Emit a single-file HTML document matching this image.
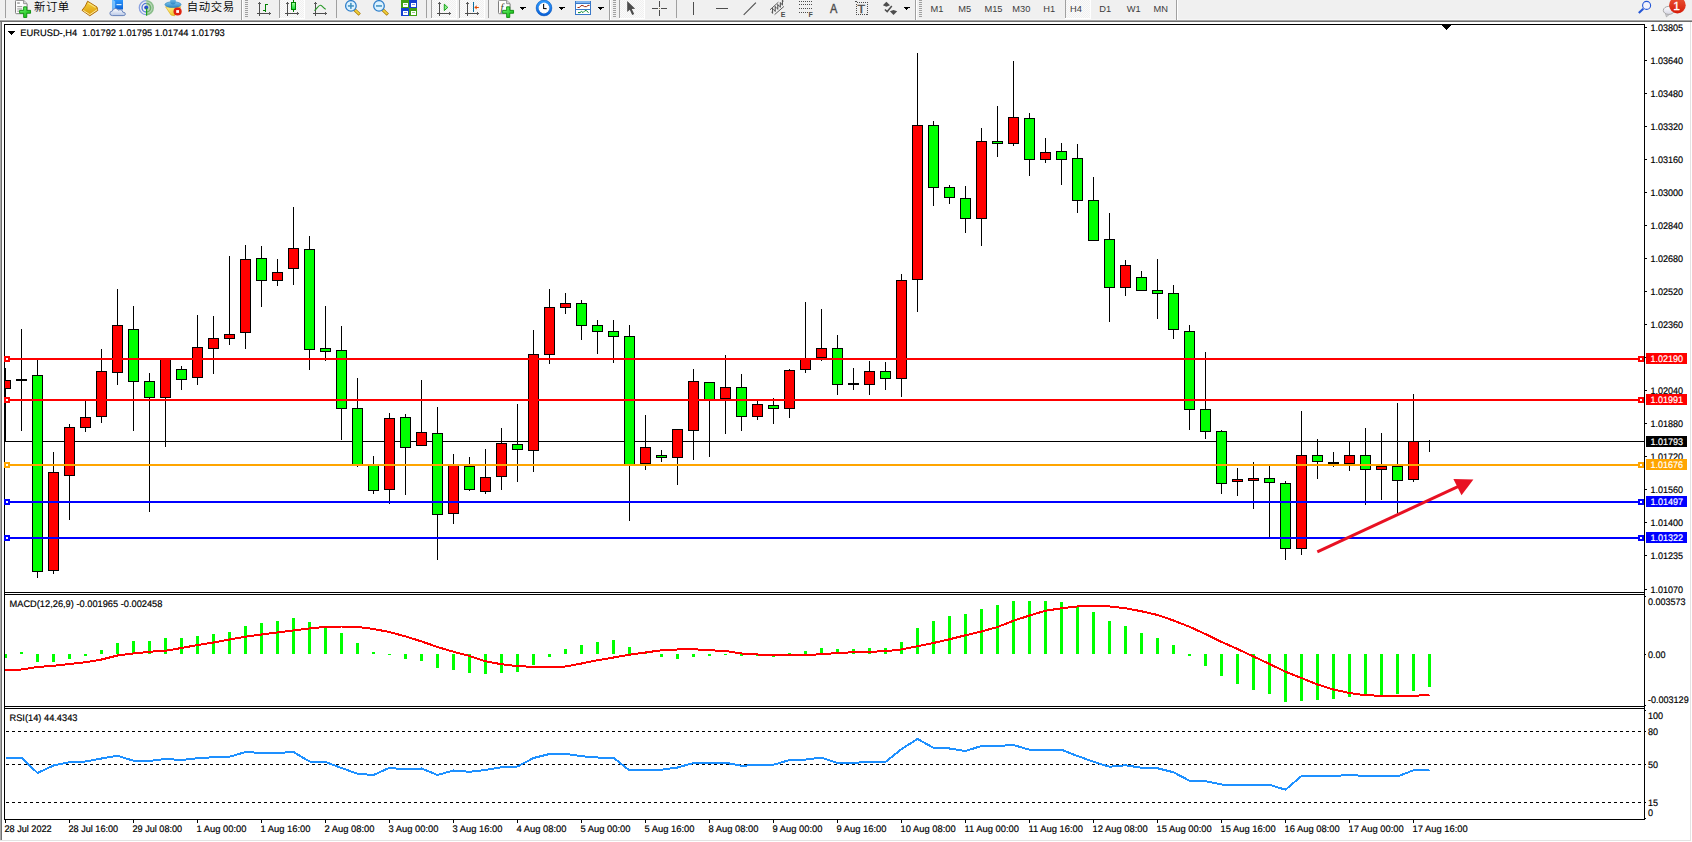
<!DOCTYPE html>
<html lang="zh"><head><meta charset="utf-8"><title>EURUSD-,H4</title>
<style>html,body{margin:0;padding:0;background:#fff}body{width:1692px;height:842px;overflow:hidden;position:relative}</style></head>
<body>
<svg width="1692" height="842" viewBox="0 0 1692 842" shape-rendering="crispEdges" style="position:absolute;left:0;top:0;font-family:'Liberation Sans','Noto Sans CJK SC',sans-serif">
<rect x="0" y="0" width="1692" height="842" fill="#ffffff"/>
<rect x="0" y="0" width="1692" height="19" fill="#f0f0f0"/>
<rect x="0" y="19" width="1692" height="1" fill="#f6f6f6"/>
<rect x="0" y="20" width="1692" height="1" fill="#a5a5a5"/>
<rect x="0" y="21" width="1692" height="1" fill="#6d6d6d"/>
<rect x="0" y="22" width="1" height="819" fill="#a9a9a9"/>
<rect x="1" y="22" width="1" height="818" fill="#707070"/>
<rect x="1690" y="22" width="1" height="819" fill="#e3e3e3"/>
<rect x="0" y="840" width="1691" height="1" fill="#e3e3e3"/>
<g fill="#000">
<rect x="4" y="24" width="1641" height="1" fill="#000"/>
<rect x="4" y="24" width="1" height="796" fill="#000"/>
<rect x="1644" y="24" width="1" height="796" fill="#000"/>
<rect x="4" y="592" width="1641" height="1" fill="#000"/>
<rect x="4" y="594" width="1641" height="1" fill="#000"/>
<rect x="4" y="706" width="1641" height="1" fill="#000"/>
<rect x="4" y="708" width="1641" height="1" fill="#000"/>
<rect x="4" y="819" width="1641" height="1" fill="#000"/>
</g>
<rect x="5" y="593" width="1639" height="1" fill="#fff"/>
<rect x="5" y="707" width="1639" height="1" fill="#fff"/>
<rect x="4" y="441" width="1640" height="1" fill="#000"/>
<g id="candles">
<rect x="5" y="368" width="1" height="73" fill="#000"/>
<rect x="5" y="380" width="6" height="9" fill="#000"/>
<rect x="5" y="381" width="5" height="7" fill="#ff0000"/>
<rect x="21" y="329" width="1" height="102" fill="#000"/>
<rect x="16" y="379" width="11" height="2" fill="#000"/>
<rect x="37" y="360" width="1" height="218" fill="#000"/>
<rect x="32" y="375" width="11" height="197" fill="#000"/>
<rect x="33" y="376" width="9" height="195" fill="#00ff00"/>
<rect x="53" y="452" width="1" height="122" fill="#000"/>
<rect x="48" y="472" width="11" height="99" fill="#000"/>
<rect x="49" y="473" width="9" height="97" fill="#ff0000"/>
<rect x="69" y="424" width="1" height="96" fill="#000"/>
<rect x="64" y="427" width="11" height="49" fill="#000"/>
<rect x="65" y="428" width="9" height="47" fill="#ff0000"/>
<rect x="85" y="401" width="1" height="31" fill="#000"/>
<rect x="80" y="417" width="11" height="11" fill="#000"/>
<rect x="81" y="418" width="9" height="9" fill="#ff0000"/>
<rect x="101" y="349" width="1" height="74" fill="#000"/>
<rect x="96" y="371" width="11" height="46" fill="#000"/>
<rect x="97" y="372" width="9" height="44" fill="#ff0000"/>
<rect x="117" y="289" width="1" height="96" fill="#000"/>
<rect x="112" y="325" width="11" height="48" fill="#000"/>
<rect x="113" y="326" width="9" height="46" fill="#ff0000"/>
<rect x="133" y="306" width="1" height="125" fill="#000"/>
<rect x="128" y="329" width="11" height="53" fill="#000"/>
<rect x="129" y="330" width="9" height="51" fill="#00ff00"/>
<rect x="149" y="373" width="1" height="139" fill="#000"/>
<rect x="144" y="381" width="11" height="17" fill="#000"/>
<rect x="145" y="382" width="9" height="15" fill="#00ff00"/>
<rect x="165" y="358" width="1" height="89" fill="#000"/>
<rect x="160" y="358" width="11" height="40" fill="#000"/>
<rect x="161" y="359" width="9" height="38" fill="#ff0000"/>
<rect x="181" y="366" width="1" height="24" fill="#000"/>
<rect x="176" y="369" width="11" height="11" fill="#000"/>
<rect x="177" y="370" width="9" height="9" fill="#00ff00"/>
<rect x="197" y="315" width="1" height="70" fill="#000"/>
<rect x="192" y="347" width="11" height="31" fill="#000"/>
<rect x="193" y="348" width="9" height="29" fill="#ff0000"/>
<rect x="213" y="316" width="1" height="58" fill="#000"/>
<rect x="208" y="338" width="11" height="11" fill="#000"/>
<rect x="209" y="339" width="9" height="9" fill="#ff0000"/>
<rect x="229" y="256" width="1" height="89" fill="#000"/>
<rect x="224" y="334" width="11" height="5" fill="#000"/>
<rect x="225" y="335" width="9" height="3" fill="#ff0000"/>
<rect x="245" y="245" width="1" height="104" fill="#000"/>
<rect x="240" y="259" width="11" height="74" fill="#000"/>
<rect x="241" y="260" width="9" height="72" fill="#ff0000"/>
<rect x="261" y="246" width="1" height="61" fill="#000"/>
<rect x="256" y="258" width="11" height="23" fill="#000"/>
<rect x="257" y="259" width="9" height="21" fill="#00ff00"/>
<rect x="277" y="259" width="1" height="27" fill="#000"/>
<rect x="272" y="272" width="11" height="9" fill="#000"/>
<rect x="273" y="273" width="9" height="7" fill="#ff0000"/>
<rect x="293" y="207" width="1" height="78" fill="#000"/>
<rect x="288" y="248" width="11" height="21" fill="#000"/>
<rect x="289" y="249" width="9" height="19" fill="#ff0000"/>
<rect x="309" y="236" width="1" height="134" fill="#000"/>
<rect x="304" y="249" width="11" height="101" fill="#000"/>
<rect x="305" y="250" width="9" height="99" fill="#00ff00"/>
<rect x="325" y="306" width="1" height="55" fill="#000"/>
<rect x="320" y="348" width="11" height="4" fill="#000"/>
<rect x="321" y="349" width="9" height="2" fill="#00ff00"/>
<rect x="341" y="326" width="1" height="114" fill="#000"/>
<rect x="336" y="350" width="11" height="59" fill="#000"/>
<rect x="337" y="351" width="9" height="57" fill="#00ff00"/>
<rect x="357" y="378" width="1" height="89" fill="#000"/>
<rect x="352" y="408" width="11" height="57" fill="#000"/>
<rect x="353" y="409" width="9" height="55" fill="#00ff00"/>
<rect x="373" y="456" width="1" height="38" fill="#000"/>
<rect x="368" y="465" width="11" height="26" fill="#000"/>
<rect x="369" y="466" width="9" height="24" fill="#00ff00"/>
<rect x="389" y="413" width="1" height="91" fill="#000"/>
<rect x="384" y="418" width="11" height="72" fill="#000"/>
<rect x="385" y="419" width="9" height="70" fill="#ff0000"/>
<rect x="405" y="414" width="1" height="81" fill="#000"/>
<rect x="400" y="417" width="11" height="31" fill="#000"/>
<rect x="401" y="418" width="9" height="29" fill="#00ff00"/>
<rect x="421" y="380" width="1" height="66" fill="#000"/>
<rect x="416" y="432" width="11" height="14" fill="#000"/>
<rect x="417" y="433" width="9" height="12" fill="#ff0000"/>
<rect x="437" y="407" width="1" height="153" fill="#000"/>
<rect x="432" y="433" width="11" height="82" fill="#000"/>
<rect x="433" y="434" width="9" height="80" fill="#00ff00"/>
<rect x="453" y="454" width="1" height="70" fill="#000"/>
<rect x="448" y="465" width="11" height="49" fill="#000"/>
<rect x="449" y="466" width="9" height="47" fill="#ff0000"/>
<rect x="469" y="457" width="1" height="34" fill="#000"/>
<rect x="464" y="466" width="11" height="24" fill="#000"/>
<rect x="465" y="467" width="9" height="22" fill="#00ff00"/>
<rect x="485" y="449" width="1" height="45" fill="#000"/>
<rect x="480" y="477" width="11" height="15" fill="#000"/>
<rect x="481" y="478" width="9" height="13" fill="#ff0000"/>
<rect x="501" y="428" width="1" height="62" fill="#000"/>
<rect x="496" y="443" width="11" height="34" fill="#000"/>
<rect x="497" y="444" width="9" height="32" fill="#ff0000"/>
<rect x="517" y="404" width="1" height="78" fill="#000"/>
<rect x="512" y="444" width="11" height="6" fill="#000"/>
<rect x="513" y="445" width="9" height="4" fill="#00ff00"/>
<rect x="533" y="330" width="1" height="142" fill="#000"/>
<rect x="528" y="354" width="11" height="97" fill="#000"/>
<rect x="529" y="355" width="9" height="95" fill="#ff0000"/>
<rect x="549" y="289" width="1" height="75" fill="#000"/>
<rect x="544" y="307" width="11" height="48" fill="#000"/>
<rect x="545" y="308" width="9" height="46" fill="#ff0000"/>
<rect x="565" y="293" width="1" height="21" fill="#000"/>
<rect x="560" y="303" width="11" height="5" fill="#000"/>
<rect x="561" y="304" width="9" height="3" fill="#ff0000"/>
<rect x="581" y="300" width="1" height="40" fill="#000"/>
<rect x="576" y="303" width="11" height="23" fill="#000"/>
<rect x="577" y="304" width="9" height="21" fill="#00ff00"/>
<rect x="597" y="320" width="1" height="34" fill="#000"/>
<rect x="592" y="325" width="11" height="7" fill="#000"/>
<rect x="593" y="326" width="9" height="5" fill="#00ff00"/>
<rect x="613" y="320" width="1" height="43" fill="#000"/>
<rect x="608" y="331" width="11" height="6" fill="#000"/>
<rect x="609" y="332" width="9" height="4" fill="#00ff00"/>
<rect x="629" y="325" width="1" height="196" fill="#000"/>
<rect x="624" y="336" width="11" height="129" fill="#000"/>
<rect x="625" y="337" width="9" height="127" fill="#00ff00"/>
<rect x="645" y="415" width="1" height="55" fill="#000"/>
<rect x="640" y="447" width="11" height="17" fill="#000"/>
<rect x="641" y="448" width="9" height="15" fill="#ff0000"/>
<rect x="661" y="450" width="1" height="12" fill="#000"/>
<rect x="656" y="455" width="11" height="3" fill="#000"/>
<rect x="657" y="456" width="9" height="1" fill="#00ff00"/>
<rect x="677" y="429" width="1" height="56" fill="#000"/>
<rect x="672" y="429" width="11" height="29" fill="#000"/>
<rect x="673" y="430" width="9" height="27" fill="#ff0000"/>
<rect x="693" y="369" width="1" height="91" fill="#000"/>
<rect x="688" y="381" width="11" height="50" fill="#000"/>
<rect x="689" y="382" width="9" height="48" fill="#ff0000"/>
<rect x="709" y="382" width="1" height="75" fill="#000"/>
<rect x="704" y="382" width="11" height="18" fill="#000"/>
<rect x="705" y="383" width="9" height="16" fill="#00ff00"/>
<rect x="725" y="355" width="1" height="79" fill="#000"/>
<rect x="720" y="387" width="11" height="12" fill="#000"/>
<rect x="721" y="388" width="9" height="10" fill="#ff0000"/>
<rect x="741" y="374" width="1" height="57" fill="#000"/>
<rect x="736" y="387" width="11" height="30" fill="#000"/>
<rect x="737" y="388" width="9" height="28" fill="#00ff00"/>
<rect x="757" y="401" width="1" height="19" fill="#000"/>
<rect x="752" y="404" width="11" height="13" fill="#000"/>
<rect x="753" y="405" width="9" height="11" fill="#ff0000"/>
<rect x="773" y="398" width="1" height="26" fill="#000"/>
<rect x="768" y="405" width="11" height="4" fill="#000"/>
<rect x="769" y="406" width="9" height="2" fill="#00ff00"/>
<rect x="789" y="369" width="1" height="49" fill="#000"/>
<rect x="784" y="370" width="11" height="39" fill="#000"/>
<rect x="785" y="371" width="9" height="37" fill="#ff0000"/>
<rect x="805" y="302" width="1" height="71" fill="#000"/>
<rect x="800" y="359" width="11" height="11" fill="#000"/>
<rect x="801" y="360" width="9" height="9" fill="#ff0000"/>
<rect x="821" y="309" width="1" height="52" fill="#000"/>
<rect x="816" y="348" width="11" height="10" fill="#000"/>
<rect x="817" y="349" width="9" height="8" fill="#ff0000"/>
<rect x="837" y="335" width="1" height="60" fill="#000"/>
<rect x="832" y="348" width="11" height="37" fill="#000"/>
<rect x="833" y="349" width="9" height="35" fill="#00ff00"/>
<rect x="853" y="368" width="1" height="22" fill="#000"/>
<rect x="848" y="383" width="11" height="2" fill="#000"/>
<rect x="869" y="361" width="1" height="34" fill="#000"/>
<rect x="864" y="371" width="11" height="14" fill="#000"/>
<rect x="865" y="372" width="9" height="12" fill="#ff0000"/>
<rect x="885" y="362" width="1" height="28" fill="#000"/>
<rect x="880" y="371" width="11" height="8" fill="#000"/>
<rect x="881" y="372" width="9" height="6" fill="#00ff00"/>
<rect x="901" y="274" width="1" height="123" fill="#000"/>
<rect x="896" y="280" width="11" height="99" fill="#000"/>
<rect x="897" y="281" width="9" height="97" fill="#ff0000"/>
<rect x="917" y="53" width="1" height="259" fill="#000"/>
<rect x="912" y="125" width="11" height="155" fill="#000"/>
<rect x="913" y="126" width="9" height="153" fill="#ff0000"/>
<rect x="933" y="121" width="1" height="85" fill="#000"/>
<rect x="928" y="125" width="11" height="63" fill="#000"/>
<rect x="929" y="126" width="9" height="61" fill="#00ff00"/>
<rect x="949" y="185" width="1" height="19" fill="#000"/>
<rect x="944" y="187" width="11" height="11" fill="#000"/>
<rect x="945" y="188" width="9" height="9" fill="#00ff00"/>
<rect x="965" y="186" width="1" height="47" fill="#000"/>
<rect x="960" y="198" width="11" height="21" fill="#000"/>
<rect x="961" y="199" width="9" height="19" fill="#00ff00"/>
<rect x="981" y="128" width="1" height="118" fill="#000"/>
<rect x="976" y="141" width="11" height="78" fill="#000"/>
<rect x="977" y="142" width="9" height="76" fill="#ff0000"/>
<rect x="997" y="106" width="1" height="51" fill="#000"/>
<rect x="992" y="141" width="11" height="3" fill="#000"/>
<rect x="993" y="142" width="9" height="1" fill="#00ff00"/>
<rect x="1013" y="61" width="1" height="85" fill="#000"/>
<rect x="1008" y="117" width="11" height="27" fill="#000"/>
<rect x="1009" y="118" width="9" height="25" fill="#ff0000"/>
<rect x="1029" y="113" width="1" height="63" fill="#000"/>
<rect x="1024" y="118" width="11" height="42" fill="#000"/>
<rect x="1025" y="119" width="9" height="40" fill="#00ff00"/>
<rect x="1045" y="138" width="1" height="25" fill="#000"/>
<rect x="1040" y="152" width="11" height="8" fill="#000"/>
<rect x="1041" y="153" width="9" height="6" fill="#ff0000"/>
<rect x="1061" y="143" width="1" height="42" fill="#000"/>
<rect x="1056" y="151" width="11" height="9" fill="#000"/>
<rect x="1057" y="152" width="9" height="7" fill="#00ff00"/>
<rect x="1077" y="144" width="1" height="69" fill="#000"/>
<rect x="1072" y="158" width="11" height="43" fill="#000"/>
<rect x="1073" y="159" width="9" height="41" fill="#00ff00"/>
<rect x="1093" y="177" width="1" height="64" fill="#000"/>
<rect x="1088" y="200" width="11" height="41" fill="#000"/>
<rect x="1089" y="201" width="9" height="39" fill="#00ff00"/>
<rect x="1109" y="213" width="1" height="109" fill="#000"/>
<rect x="1104" y="239" width="11" height="49" fill="#000"/>
<rect x="1105" y="240" width="9" height="47" fill="#00ff00"/>
<rect x="1125" y="260" width="1" height="36" fill="#000"/>
<rect x="1120" y="265" width="11" height="23" fill="#000"/>
<rect x="1121" y="266" width="9" height="21" fill="#ff0000"/>
<rect x="1141" y="271" width="1" height="20" fill="#000"/>
<rect x="1136" y="277" width="11" height="14" fill="#000"/>
<rect x="1137" y="278" width="9" height="12" fill="#00ff00"/>
<rect x="1157" y="259" width="1" height="60" fill="#000"/>
<rect x="1152" y="290" width="11" height="4" fill="#000"/>
<rect x="1153" y="291" width="9" height="2" fill="#00ff00"/>
<rect x="1173" y="285" width="1" height="54" fill="#000"/>
<rect x="1168" y="293" width="11" height="37" fill="#000"/>
<rect x="1169" y="294" width="9" height="35" fill="#00ff00"/>
<rect x="1189" y="325" width="1" height="105" fill="#000"/>
<rect x="1184" y="331" width="11" height="79" fill="#000"/>
<rect x="1185" y="332" width="9" height="77" fill="#00ff00"/>
<rect x="1205" y="352" width="1" height="87" fill="#000"/>
<rect x="1200" y="409" width="11" height="23" fill="#000"/>
<rect x="1201" y="410" width="9" height="21" fill="#00ff00"/>
<rect x="1221" y="430" width="1" height="64" fill="#000"/>
<rect x="1216" y="431" width="11" height="53" fill="#000"/>
<rect x="1217" y="432" width="9" height="51" fill="#00ff00"/>
<rect x="1237" y="468" width="1" height="28" fill="#000"/>
<rect x="1232" y="479" width="11" height="3" fill="#000"/>
<rect x="1233" y="480" width="9" height="1" fill="#ff0000"/>
<rect x="1253" y="462" width="1" height="47" fill="#000"/>
<rect x="1248" y="478" width="11" height="3" fill="#000"/>
<rect x="1249" y="479" width="9" height="1" fill="#ff0000"/>
<rect x="1269" y="466" width="1" height="71" fill="#000"/>
<rect x="1264" y="478" width="11" height="5" fill="#000"/>
<rect x="1265" y="479" width="9" height="3" fill="#00ff00"/>
<rect x="1285" y="481" width="1" height="79" fill="#000"/>
<rect x="1280" y="483" width="11" height="66" fill="#000"/>
<rect x="1281" y="484" width="9" height="64" fill="#00ff00"/>
<rect x="1301" y="411" width="1" height="144" fill="#000"/>
<rect x="1296" y="455" width="11" height="94" fill="#000"/>
<rect x="1297" y="456" width="9" height="92" fill="#ff0000"/>
<rect x="1317" y="439" width="1" height="40" fill="#000"/>
<rect x="1312" y="455" width="11" height="7" fill="#000"/>
<rect x="1313" y="456" width="9" height="5" fill="#00ff00"/>
<rect x="1333" y="452" width="1" height="15" fill="#000"/>
<rect x="1328" y="462" width="11" height="2" fill="#000"/>
<rect x="1349" y="441" width="1" height="30" fill="#000"/>
<rect x="1344" y="455" width="11" height="9" fill="#000"/>
<rect x="1345" y="456" width="9" height="7" fill="#ff0000"/>
<rect x="1365" y="428" width="1" height="77" fill="#000"/>
<rect x="1360" y="455" width="11" height="15" fill="#000"/>
<rect x="1361" y="456" width="9" height="13" fill="#00ff00"/>
<rect x="1381" y="433" width="1" height="67" fill="#000"/>
<rect x="1376" y="466" width="11" height="4" fill="#000"/>
<rect x="1377" y="467" width="9" height="2" fill="#ff0000"/>
<rect x="1397" y="403" width="1" height="110" fill="#000"/>
<rect x="1392" y="466" width="11" height="15" fill="#000"/>
<rect x="1393" y="467" width="9" height="13" fill="#00ff00"/>
<rect x="1413" y="394" width="1" height="88" fill="#000"/>
<rect x="1408" y="441" width="11" height="39" fill="#000"/>
<rect x="1409" y="442" width="9" height="37" fill="#ff0000"/>
<rect x="1429" y="440" width="1" height="12" fill="#000"/>
</g>
<rect x="4" y="358" width="1640" height="2" fill="#ff0000"/>
<rect x="4" y="356" width="6" height="6" fill="#ff0000"/>
<rect x="6" y="358" width="2" height="2" fill="#fff"/>
<rect x="1638" y="356" width="6" height="6" fill="#ff0000"/>
<rect x="1640" y="358" width="2" height="2" fill="#fff"/>
<rect x="4" y="399" width="1640" height="2" fill="#ff0000"/>
<rect x="4" y="397" width="6" height="6" fill="#ff0000"/>
<rect x="6" y="399" width="2" height="2" fill="#fff"/>
<rect x="1638" y="397" width="6" height="6" fill="#ff0000"/>
<rect x="1640" y="399" width="2" height="2" fill="#fff"/>
<rect x="4" y="464" width="1640" height="2" fill="#ffa500"/>
<rect x="4" y="462" width="6" height="6" fill="#ffa500"/>
<rect x="6" y="464" width="2" height="2" fill="#fff"/>
<rect x="1638" y="462" width="6" height="6" fill="#ffa500"/>
<rect x="1640" y="464" width="2" height="2" fill="#fff"/>
<rect x="4" y="501" width="1640" height="2" fill="#0000ff"/>
<rect x="4" y="499" width="6" height="6" fill="#0000ff"/>
<rect x="6" y="501" width="2" height="2" fill="#fff"/>
<rect x="1638" y="499" width="6" height="6" fill="#0000ff"/>
<rect x="1640" y="501" width="2" height="2" fill="#fff"/>
<rect x="4" y="537" width="1640" height="2" fill="#0000ff"/>
<rect x="4" y="535" width="6" height="6" fill="#0000ff"/>
<rect x="6" y="537" width="2" height="2" fill="#fff"/>
<rect x="1638" y="535" width="6" height="6" fill="#0000ff"/>
<rect x="1640" y="537" width="2" height="2" fill="#fff"/>
<g shape-rendering="geometricPrecision">
<line x1="1317.3" y1="551.8" x2="1459" y2="486.2" stroke="#e81123" stroke-width="3"/>
<polygon points="1473.4,479.4 1453.4,478.9 1461.5,495.2" fill="#e81123"/>
</g>
<polygon points="1441.5,25 1451.5,25 1446.5,30.5" fill="#000" shape-rendering="crispEdges"/>
<g id="macd">
<rect x="5" y="654" width="2" height="4" fill="#00ff00"/>
<rect x="20" y="652" width="3" height="2" fill="#00ff00"/>
<rect x="36" y="654" width="3" height="8" fill="#00ff00"/>
<rect x="52" y="654" width="3" height="8" fill="#00ff00"/>
<rect x="68" y="654" width="3" height="5" fill="#00ff00"/>
<rect x="84" y="654" width="3" height="2" fill="#00ff00"/>
<rect x="100" y="650" width="3" height="4" fill="#00ff00"/>
<rect x="116" y="643" width="3" height="11" fill="#00ff00"/>
<rect x="132" y="641" width="3" height="13" fill="#00ff00"/>
<rect x="148" y="641" width="3" height="13" fill="#00ff00"/>
<rect x="164" y="638" width="3" height="16" fill="#00ff00"/>
<rect x="180" y="638" width="3" height="16" fill="#00ff00"/>
<rect x="196" y="636" width="3" height="18" fill="#00ff00"/>
<rect x="212" y="634" width="3" height="20" fill="#00ff00"/>
<rect x="228" y="632" width="3" height="22" fill="#00ff00"/>
<rect x="244" y="626" width="3" height="28" fill="#00ff00"/>
<rect x="260" y="623" width="3" height="31" fill="#00ff00"/>
<rect x="276" y="621" width="3" height="33" fill="#00ff00"/>
<rect x="292" y="618" width="3" height="36" fill="#00ff00"/>
<rect x="308" y="622" width="3" height="32" fill="#00ff00"/>
<rect x="324" y="627" width="3" height="27" fill="#00ff00"/>
<rect x="340" y="633" width="3" height="21" fill="#00ff00"/>
<rect x="356" y="643" width="3" height="11" fill="#00ff00"/>
<rect x="372" y="652" width="3" height="2" fill="#00ff00"/>
<rect x="388" y="654" width="3" height="1" fill="#00ff00"/>
<rect x="404" y="654" width="3" height="5" fill="#00ff00"/>
<rect x="420" y="654" width="3" height="7" fill="#00ff00"/>
<rect x="436" y="654" width="3" height="14" fill="#00ff00"/>
<rect x="452" y="654" width="3" height="16" fill="#00ff00"/>
<rect x="468" y="654" width="3" height="19" fill="#00ff00"/>
<rect x="484" y="654" width="3" height="20" fill="#00ff00"/>
<rect x="500" y="654" width="3" height="19" fill="#00ff00"/>
<rect x="516" y="654" width="3" height="18" fill="#00ff00"/>
<rect x="532" y="654" width="3" height="11" fill="#00ff00"/>
<rect x="548" y="654" width="3" height="3" fill="#00ff00"/>
<rect x="564" y="649" width="3" height="5" fill="#00ff00"/>
<rect x="580" y="645" width="3" height="9" fill="#00ff00"/>
<rect x="596" y="642" width="3" height="12" fill="#00ff00"/>
<rect x="612" y="640" width="3" height="14" fill="#00ff00"/>
<rect x="628" y="647" width="3" height="7" fill="#00ff00"/>
<rect x="644" y="652" width="3" height="2" fill="#00ff00"/>
<rect x="660" y="654" width="3" height="3" fill="#00ff00"/>
<rect x="676" y="654" width="3" height="5" fill="#00ff00"/>
<rect x="692" y="654" width="3" height="3" fill="#00ff00"/>
<rect x="708" y="654" width="3" height="2" fill="#00ff00"/>
<rect x="724" y="654" width="3" height="1" fill="#00ff00"/>
<rect x="740" y="654" width="3" height="2" fill="#00ff00"/>
<rect x="756" y="654" width="3" height="2" fill="#00ff00"/>
<rect x="772" y="654" width="3" height="3" fill="#00ff00"/>
<rect x="788" y="653" width="3" height="1" fill="#00ff00"/>
<rect x="804" y="651" width="3" height="3" fill="#00ff00"/>
<rect x="820" y="648" width="3" height="6" fill="#00ff00"/>
<rect x="836" y="649" width="3" height="5" fill="#00ff00"/>
<rect x="852" y="649" width="3" height="5" fill="#00ff00"/>
<rect x="868" y="648" width="3" height="6" fill="#00ff00"/>
<rect x="884" y="648" width="3" height="6" fill="#00ff00"/>
<rect x="900" y="642" width="3" height="12" fill="#00ff00"/>
<rect x="916" y="628" width="3" height="26" fill="#00ff00"/>
<rect x="932" y="621" width="3" height="33" fill="#00ff00"/>
<rect x="948" y="616" width="3" height="38" fill="#00ff00"/>
<rect x="964" y="614" width="3" height="40" fill="#00ff00"/>
<rect x="980" y="609" width="3" height="45" fill="#00ff00"/>
<rect x="996" y="605" width="3" height="49" fill="#00ff00"/>
<rect x="1012" y="601" width="3" height="53" fill="#00ff00"/>
<rect x="1028" y="601" width="3" height="53" fill="#00ff00"/>
<rect x="1044" y="601" width="3" height="53" fill="#00ff00"/>
<rect x="1060" y="602" width="3" height="52" fill="#00ff00"/>
<rect x="1076" y="606" width="3" height="48" fill="#00ff00"/>
<rect x="1092" y="612" width="3" height="42" fill="#00ff00"/>
<rect x="1108" y="621" width="3" height="33" fill="#00ff00"/>
<rect x="1124" y="626" width="3" height="28" fill="#00ff00"/>
<rect x="1140" y="633" width="3" height="21" fill="#00ff00"/>
<rect x="1156" y="638" width="3" height="16" fill="#00ff00"/>
<rect x="1172" y="645" width="3" height="9" fill="#00ff00"/>
<rect x="1188" y="654" width="3" height="2" fill="#00ff00"/>
<rect x="1204" y="654" width="3" height="12" fill="#00ff00"/>
<rect x="1220" y="654" width="3" height="22" fill="#00ff00"/>
<rect x="1236" y="654" width="3" height="30" fill="#00ff00"/>
<rect x="1252" y="654" width="3" height="36" fill="#00ff00"/>
<rect x="1268" y="654" width="3" height="40" fill="#00ff00"/>
<rect x="1284" y="654" width="3" height="48" fill="#00ff00"/>
<rect x="1300" y="654" width="3" height="47" fill="#00ff00"/>
<rect x="1316" y="654" width="3" height="46" fill="#00ff00"/>
<rect x="1332" y="654" width="3" height="45" fill="#00ff00"/>
<rect x="1348" y="654" width="3" height="43" fill="#00ff00"/>
<rect x="1364" y="654" width="3" height="42" fill="#00ff00"/>
<rect x="1380" y="654" width="3" height="41" fill="#00ff00"/>
<rect x="1396" y="654" width="3" height="40" fill="#00ff00"/>
<rect x="1412" y="654" width="3" height="37" fill="#00ff00"/>
<rect x="1428" y="654" width="3" height="33" fill="#00ff00"/>
<polyline points="5.5,670.0 21.5,669.5 37.5,667.0 53.5,665.75 69.5,664.0 85.5,662.25 101.5,659.5 117.5,655.5 133.5,653.5 149.5,651.75 165.5,650.75 181.5,648.0 197.5,645.0 213.5,642.5 229.5,639.5 245.5,636.75 261.5,634.5 277.5,632.5 293.5,630.5 309.5,628.5 325.5,626.75 341.5,626.5 357.5,627.0 373.5,629.0 389.5,632.0 405.5,636.4 421.5,641.4 437.5,647.0 453.5,651.75 469.5,656.0 485.5,661.25 501.5,664.25 517.5,666.25 533.5,666.75 549.5,666.75 565.5,666.5 581.5,663.5 597.5,660.25 613.5,657.5 629.5,654.75 645.5,652.5 661.5,650.25 677.5,649.5 693.5,649.25 709.5,650.25 725.5,651.0 741.5,653.5 757.5,654.5 773.5,655.0 789.5,655.0 805.5,654.9 821.5,654.3 837.5,653.0 853.5,652.25 869.5,651.75 885.5,651.25 901.5,649.5 917.5,646.25 933.5,643.0 949.5,639.25 965.5,635.25 981.5,631.5 997.5,627.0 1013.5,620.75 1029.5,615.5 1045.5,610.75 1061.5,608.25 1077.5,606.5 1093.5,606.0 1109.5,606.5 1125.5,608.25 1141.5,611.25 1157.5,615.0 1173.5,620.5 1189.5,626.75 1205.5,634.1 1221.5,641.9 1237.5,649.0 1253.5,656.5 1269.5,664.0 1285.5,671.75 1301.5,678.0 1317.5,684.5 1333.5,689.5 1349.5,693.0 1365.5,695.25 1381.5,695.75 1397.5,695.75 1413.5,695.75 1429.5,695.0" fill="none" stroke="#ff0000" stroke-width="2" stroke-linejoin="round"/>
</g>
<g id="rsi">
<line x1="6" y1="731.5" x2="1644" y2="731.5" stroke="#000" stroke-width="1" stroke-dasharray="3,3"/>
<line x1="6" y1="764.5" x2="1644" y2="764.5" stroke="#000" stroke-width="1" stroke-dasharray="3,3"/>
<line x1="6" y1="802.5" x2="1644" y2="802.5" stroke="#000" stroke-width="1" stroke-dasharray="3,3"/>
<polyline points="5.5,757.5 21.5,757.5 37.5,773.0 53.5,765.5 69.5,762.25 85.5,761.5 101.5,758.5 117.5,755.75 133.5,760.75 149.5,761.0 165.5,759.0 181.5,760.0 197.5,758.25 213.5,757.25 229.5,756.75 245.5,752.0 261.5,753.0 277.5,753.0 293.5,752.0 309.5,761.5 325.5,762.0 341.5,768.0 357.5,773.75 373.5,775.0 389.5,767.75 405.5,769.5 421.5,768.5 437.5,775.0 453.5,770.5 469.5,771.75 485.5,770.0 501.5,767.25 517.5,766.5 533.5,758.0 549.5,754.0 565.5,753.75 581.5,756.25 597.5,757.5 613.5,757.75 629.5,770.5 645.5,770.25 661.5,769.75 677.5,767.5 693.5,763.0 709.5,763.5 725.5,762.75 741.5,765.75 757.5,765.0 773.5,764.75 789.5,760.0 805.5,759.6 821.5,757.6 837.5,763.0 853.5,762.75 869.5,762.0 885.5,762.0 901.5,749.0 917.5,739.0 933.5,747.75 949.5,748.5 965.5,751.0 981.5,746.0 997.5,746.0 1013.5,745.0 1029.5,749.75 1045.5,749.75 1061.5,749.75 1077.5,756.0 1093.5,761.75 1109.5,766.75 1125.5,765.25 1141.5,767.75 1157.5,768.25 1173.5,772.25 1189.5,780.75 1205.5,781.25 1221.5,784.5 1237.5,784.5 1253.5,784.5 1269.5,784.75 1285.5,789.75 1301.5,776.0 1317.5,776.0 1333.5,776.0 1349.5,775.0 1365.5,776.0 1381.5,776.0 1397.5,776.5 1413.5,770.25 1429.5,769.75" fill="none" stroke="#1e90ff" stroke-width="2" stroke-linejoin="round"/>
</g>
<g shape-rendering="geometricPrecision" text-rendering="geometricPrecision">
<rect x="1645" y="27" width="2" height="1" fill="#000" shape-rendering="crispEdges"/>
<text transform="translate(1650.5,31) scale(0.95,1)" font-size="9.5" fill="#000" stroke="#000" stroke-width="0.18" text-anchor="start">1.03805</text>
<rect x="1645" y="60" width="2" height="1" fill="#000" shape-rendering="crispEdges"/>
<text transform="translate(1650.5,64) scale(0.95,1)" font-size="9.5" fill="#000" stroke="#000" stroke-width="0.18" text-anchor="start">1.03640</text>
<rect x="1645" y="93" width="2" height="1" fill="#000" shape-rendering="crispEdges"/>
<text transform="translate(1650.5,97) scale(0.95,1)" font-size="9.5" fill="#000" stroke="#000" stroke-width="0.18" text-anchor="start">1.03480</text>
<rect x="1645" y="126" width="2" height="1" fill="#000" shape-rendering="crispEdges"/>
<text transform="translate(1650.5,130) scale(0.95,1)" font-size="9.5" fill="#000" stroke="#000" stroke-width="0.18" text-anchor="start">1.03320</text>
<rect x="1645" y="159" width="2" height="1" fill="#000" shape-rendering="crispEdges"/>
<text transform="translate(1650.5,163) scale(0.95,1)" font-size="9.5" fill="#000" stroke="#000" stroke-width="0.18" text-anchor="start">1.03160</text>
<rect x="1645" y="192" width="2" height="1" fill="#000" shape-rendering="crispEdges"/>
<text transform="translate(1650.5,196) scale(0.95,1)" font-size="9.5" fill="#000" stroke="#000" stroke-width="0.18" text-anchor="start">1.03000</text>
<rect x="1645" y="225" width="2" height="1" fill="#000" shape-rendering="crispEdges"/>
<text transform="translate(1650.5,229) scale(0.95,1)" font-size="9.5" fill="#000" stroke="#000" stroke-width="0.18" text-anchor="start">1.02840</text>
<rect x="1645" y="258" width="2" height="1" fill="#000" shape-rendering="crispEdges"/>
<text transform="translate(1650.5,262) scale(0.95,1)" font-size="9.5" fill="#000" stroke="#000" stroke-width="0.18" text-anchor="start">1.02680</text>
<rect x="1645" y="291" width="2" height="1" fill="#000" shape-rendering="crispEdges"/>
<text transform="translate(1650.5,295) scale(0.95,1)" font-size="9.5" fill="#000" stroke="#000" stroke-width="0.18" text-anchor="start">1.02520</text>
<rect x="1645" y="324" width="2" height="1" fill="#000" shape-rendering="crispEdges"/>
<text transform="translate(1650.5,328) scale(0.95,1)" font-size="9.5" fill="#000" stroke="#000" stroke-width="0.18" text-anchor="start">1.02360</text>
<rect x="1645" y="357" width="2" height="1" fill="#000" shape-rendering="crispEdges"/>
<text transform="translate(1650.5,361) scale(0.95,1)" font-size="9.5" fill="#000" stroke="#000" stroke-width="0.18" text-anchor="start">1.02200</text>
<rect x="1645" y="390" width="2" height="1" fill="#000" shape-rendering="crispEdges"/>
<text transform="translate(1650.5,394) scale(0.95,1)" font-size="9.5" fill="#000" stroke="#000" stroke-width="0.18" text-anchor="start">1.02040</text>
<rect x="1645" y="423" width="2" height="1" fill="#000" shape-rendering="crispEdges"/>
<text transform="translate(1650.5,427) scale(0.95,1)" font-size="9.5" fill="#000" stroke="#000" stroke-width="0.18" text-anchor="start">1.01880</text>
<rect x="1645" y="456" width="2" height="1" fill="#000" shape-rendering="crispEdges"/>
<text transform="translate(1650.5,460) scale(0.95,1)" font-size="9.5" fill="#000" stroke="#000" stroke-width="0.18" text-anchor="start">1.01720</text>
<rect x="1645" y="489" width="2" height="1" fill="#000" shape-rendering="crispEdges"/>
<text transform="translate(1650.5,493) scale(0.95,1)" font-size="9.5" fill="#000" stroke="#000" stroke-width="0.18" text-anchor="start">1.01560</text>
<rect x="1645" y="522" width="2" height="1" fill="#000" shape-rendering="crispEdges"/>
<text transform="translate(1650.5,526) scale(0.95,1)" font-size="9.5" fill="#000" stroke="#000" stroke-width="0.18" text-anchor="start">1.01400</text>
<rect x="1645" y="555" width="2" height="1" fill="#000" shape-rendering="crispEdges"/>
<text transform="translate(1650.5,559) scale(0.95,1)" font-size="9.5" fill="#000" stroke="#000" stroke-width="0.18" text-anchor="start">1.01235</text>
<rect x="1645" y="589" width="2" height="1" fill="#000" shape-rendering="crispEdges"/>
<text transform="translate(1650.5,593) scale(0.95,1)" font-size="9.5" fill="#000" stroke="#000" stroke-width="0.18" text-anchor="start">1.01070</text>
<rect x="1646" y="353" width="41" height="11" fill="#ff0000" shape-rendering="crispEdges"/>
<text transform="translate(1650.5,362) scale(0.95,1)" font-size="9.5" fill="#fff" stroke="#fff" stroke-width="0.18" text-anchor="start">1.02190</text>
<rect x="1646" y="394" width="41" height="11" fill="#ff0000" shape-rendering="crispEdges"/>
<text transform="translate(1650.5,403) scale(0.95,1)" font-size="9.5" fill="#fff" stroke="#fff" stroke-width="0.18" text-anchor="start">1.01991</text>
<rect x="1646" y="436" width="41" height="11" fill="#000000" shape-rendering="crispEdges"/>
<text transform="translate(1650.5,445) scale(0.95,1)" font-size="9.5" fill="#fff" stroke="#fff" stroke-width="0.18" text-anchor="start">1.01793</text>
<rect x="1646" y="459" width="41" height="11" fill="#ffa500" shape-rendering="crispEdges"/>
<text transform="translate(1650.5,468) scale(0.95,1)" font-size="9.5" fill="#fff" stroke="#fff" stroke-width="0.18" text-anchor="start">1.01676</text>
<rect x="1646" y="496" width="41" height="11" fill="#0000ff" shape-rendering="crispEdges"/>
<text transform="translate(1650.5,505) scale(0.95,1)" font-size="9.5" fill="#fff" stroke="#fff" stroke-width="0.18" text-anchor="start">1.01497</text>
<rect x="1646" y="532" width="41" height="11" fill="#0000ff" shape-rendering="crispEdges"/>
<text transform="translate(1650.5,541) scale(0.95,1)" font-size="9.5" fill="#fff" stroke="#fff" stroke-width="0.18" text-anchor="start">1.01322</text>
<text transform="translate(1648,605) scale(0.95,1)" font-size="9.5" fill="#000" stroke="#000" stroke-width="0.18" text-anchor="start">0.003573</text>
<text transform="translate(1648,658) scale(0.95,1)" font-size="9.5" fill="#000" stroke="#000" stroke-width="0.18" text-anchor="start">0.00</text>
<text transform="translate(1648,703) scale(0.95,1)" font-size="9.5" fill="#000" stroke="#000" stroke-width="0.18" text-anchor="start">-0.003129</text>
<rect x="1645" y="596" width="1" height="1" fill="#000" shape-rendering="crispEdges"/>
<rect x="1645" y="654" width="1" height="1" fill="#000" shape-rendering="crispEdges"/>
<rect x="1645" y="705" width="1" height="1" fill="#000" shape-rendering="crispEdges"/>
<text transform="translate(1648,719) scale(0.95,1)" font-size="9.5" fill="#000" stroke="#000" stroke-width="0.18" text-anchor="start">100</text>
<text transform="translate(1648,735) scale(0.95,1)" font-size="9.5" fill="#000" stroke="#000" stroke-width="0.18" text-anchor="start">80</text>
<text transform="translate(1648,768) scale(0.95,1)" font-size="9.5" fill="#000" stroke="#000" stroke-width="0.18" text-anchor="start">50</text>
<text transform="translate(1648,806) scale(0.95,1)" font-size="9.5" fill="#000" stroke="#000" stroke-width="0.18" text-anchor="start">15</text>
<text transform="translate(1648,816) scale(0.95,1)" font-size="9.5" fill="#000" stroke="#000" stroke-width="0.18" text-anchor="start">0</text>
<rect x="1645" y="710" width="1" height="1" fill="#000" shape-rendering="crispEdges"/>
<rect x="1645" y="731" width="1" height="1" fill="#000" shape-rendering="crispEdges"/>
<rect x="1645" y="764" width="1" height="1" fill="#000" shape-rendering="crispEdges"/>
<rect x="1645" y="802" width="1" height="1" fill="#000" shape-rendering="crispEdges"/>
<rect x="1645" y="818" width="1" height="1" fill="#000" shape-rendering="crispEdges"/>
<polygon points="8,31 15,31 11.5,35" fill="#000" shape-rendering="crispEdges"/>
<text transform="translate(20.3,36) scale(0.98,1)" font-size="9.5" fill="#000" stroke="#000" stroke-width="0.18" text-anchor="start">EURUSD-,H4&#160;&#160;1.01792 1.01795 1.01744 1.01793</text>
<text transform="translate(9.5,607) scale(0.975,1)" font-size="9.5" fill="#000" stroke="#000" stroke-width="0.18" text-anchor="start">MACD(12,26,9) -0.001965 -0.002458</text>
<text transform="translate(9.5,721) scale(0.975,1)" font-size="9.5" fill="#000" stroke="#000" stroke-width="0.18" text-anchor="start">RSI(14) 44.4343</text>
<rect x="5" y="820" width="1" height="3" fill="#000" shape-rendering="crispEdges"/>
<text transform="translate(4.5,832) scale(0.96,1)" font-size="9.5" fill="#000" stroke="#000" stroke-width="0.18" text-anchor="start">28 Jul 2022</text>
<rect x="69" y="820" width="1" height="3" fill="#000" shape-rendering="crispEdges"/>
<text transform="translate(68.5,832) scale(0.96,1)" font-size="9.5" fill="#000" stroke="#000" stroke-width="0.18" text-anchor="start">28 Jul 16:00</text>
<rect x="133" y="820" width="1" height="3" fill="#000" shape-rendering="crispEdges"/>
<text transform="translate(132.5,832) scale(0.96,1)" font-size="9.5" fill="#000" stroke="#000" stroke-width="0.18" text-anchor="start">29 Jul 08:00</text>
<rect x="197" y="820" width="1" height="3" fill="#000" shape-rendering="crispEdges"/>
<text transform="translate(196.5,832) scale(0.985,1)" font-size="9.5" fill="#000" stroke="#000" stroke-width="0.18" text-anchor="start">1 Aug 00:00</text>
<rect x="261" y="820" width="1" height="3" fill="#000" shape-rendering="crispEdges"/>
<text transform="translate(260.5,832) scale(0.985,1)" font-size="9.5" fill="#000" stroke="#000" stroke-width="0.18" text-anchor="start">1 Aug 16:00</text>
<rect x="325" y="820" width="1" height="3" fill="#000" shape-rendering="crispEdges"/>
<text transform="translate(324.5,832) scale(0.985,1)" font-size="9.5" fill="#000" stroke="#000" stroke-width="0.18" text-anchor="start">2 Aug 08:00</text>
<rect x="389" y="820" width="1" height="3" fill="#000" shape-rendering="crispEdges"/>
<text transform="translate(388.5,832) scale(0.985,1)" font-size="9.5" fill="#000" stroke="#000" stroke-width="0.18" text-anchor="start">3 Aug 00:00</text>
<rect x="453" y="820" width="1" height="3" fill="#000" shape-rendering="crispEdges"/>
<text transform="translate(452.5,832) scale(0.985,1)" font-size="9.5" fill="#000" stroke="#000" stroke-width="0.18" text-anchor="start">3 Aug 16:00</text>
<rect x="517" y="820" width="1" height="3" fill="#000" shape-rendering="crispEdges"/>
<text transform="translate(516.5,832) scale(0.985,1)" font-size="9.5" fill="#000" stroke="#000" stroke-width="0.18" text-anchor="start">4 Aug 08:00</text>
<rect x="581" y="820" width="1" height="3" fill="#000" shape-rendering="crispEdges"/>
<text transform="translate(580.5,832) scale(0.985,1)" font-size="9.5" fill="#000" stroke="#000" stroke-width="0.18" text-anchor="start">5 Aug 00:00</text>
<rect x="645" y="820" width="1" height="3" fill="#000" shape-rendering="crispEdges"/>
<text transform="translate(644.5,832) scale(0.985,1)" font-size="9.5" fill="#000" stroke="#000" stroke-width="0.18" text-anchor="start">5 Aug 16:00</text>
<rect x="709" y="820" width="1" height="3" fill="#000" shape-rendering="crispEdges"/>
<text transform="translate(708.5,832) scale(0.985,1)" font-size="9.5" fill="#000" stroke="#000" stroke-width="0.18" text-anchor="start">8 Aug 08:00</text>
<rect x="773" y="820" width="1" height="3" fill="#000" shape-rendering="crispEdges"/>
<text transform="translate(772.5,832) scale(0.985,1)" font-size="9.5" fill="#000" stroke="#000" stroke-width="0.18" text-anchor="start">9 Aug 00:00</text>
<rect x="837" y="820" width="1" height="3" fill="#000" shape-rendering="crispEdges"/>
<text transform="translate(836.5,832) scale(0.985,1)" font-size="9.5" fill="#000" stroke="#000" stroke-width="0.18" text-anchor="start">9 Aug 16:00</text>
<rect x="901" y="820" width="1" height="3" fill="#000" shape-rendering="crispEdges"/>
<text transform="translate(900.5,832) scale(0.985,1)" font-size="9.5" fill="#000" stroke="#000" stroke-width="0.18" text-anchor="start">10 Aug 08:00</text>
<rect x="965" y="820" width="1" height="3" fill="#000" shape-rendering="crispEdges"/>
<text transform="translate(964.5,832) scale(0.985,1)" font-size="9.5" fill="#000" stroke="#000" stroke-width="0.18" text-anchor="start">11 Aug 00:00</text>
<rect x="1029" y="820" width="1" height="3" fill="#000" shape-rendering="crispEdges"/>
<text transform="translate(1028.5,832) scale(0.985,1)" font-size="9.5" fill="#000" stroke="#000" stroke-width="0.18" text-anchor="start">11 Aug 16:00</text>
<rect x="1093" y="820" width="1" height="3" fill="#000" shape-rendering="crispEdges"/>
<text transform="translate(1092.5,832) scale(0.985,1)" font-size="9.5" fill="#000" stroke="#000" stroke-width="0.18" text-anchor="start">12 Aug 08:00</text>
<rect x="1157" y="820" width="1" height="3" fill="#000" shape-rendering="crispEdges"/>
<text transform="translate(1156.5,832) scale(0.985,1)" font-size="9.5" fill="#000" stroke="#000" stroke-width="0.18" text-anchor="start">15 Aug 00:00</text>
<rect x="1221" y="820" width="1" height="3" fill="#000" shape-rendering="crispEdges"/>
<text transform="translate(1220.5,832) scale(0.985,1)" font-size="9.5" fill="#000" stroke="#000" stroke-width="0.18" text-anchor="start">15 Aug 16:00</text>
<rect x="1285" y="820" width="1" height="3" fill="#000" shape-rendering="crispEdges"/>
<text transform="translate(1284.5,832) scale(0.985,1)" font-size="9.5" fill="#000" stroke="#000" stroke-width="0.18" text-anchor="start">16 Aug 08:00</text>
<rect x="1349" y="820" width="1" height="3" fill="#000" shape-rendering="crispEdges"/>
<text transform="translate(1348.5,832) scale(0.985,1)" font-size="9.5" fill="#000" stroke="#000" stroke-width="0.18" text-anchor="start">17 Aug 00:00</text>
<rect x="1413" y="820" width="1" height="3" fill="#000" shape-rendering="crispEdges"/>
<text transform="translate(1412.5,832) scale(0.985,1)" font-size="9.5" fill="#000" stroke="#000" stroke-width="0.18" text-anchor="start">17 Aug 16:00</text>
</g>
<defs><linearGradient id="gp" x1="0" y1="0" x2="1" y2="1"><stop offset="0" stop-color="#7dff7d"/><stop offset="1" stop-color="#00b000"/></linearGradient><linearGradient id="gold" x1="0" y1="0" x2="0" y2="1"><stop offset="0" stop-color="#f7d23a"/><stop offset="1" stop-color="#d9980c"/></linearGradient><linearGradient id="cloud" x1="0" y1="0" x2="0" y2="1"><stop offset="0" stop-color="#ffffff"/><stop offset="1" stop-color="#b9c8e6"/></linearGradient><linearGradient id="blu" x1="0" y1="0" x2="0" y2="1"><stop offset="0" stop-color="#2f9bff"/><stop offset="1" stop-color="#0a62d8"/></linearGradient><linearGradient id="redb" x1="0" y1="0" x2="0" y2="1"><stop offset="0" stop-color="#ea5535"/><stop offset="1" stop-color="#d61b08"/></linearGradient><linearGradient id="hat" x1="0" y1="0" x2="0" y2="1"><stop offset="0" stop-color="#7fc8f0"/><stop offset="1" stop-color="#2f86c4"/></linearGradient><linearGradient id="face" x1="0" y1="0" x2="1" y2="1"><stop offset="0" stop-color="#fff39a"/><stop offset="1" stop-color="#e8b80a"/></linearGradient><linearGradient id="bub" x1="0" y1="0" x2="0" y2="1"><stop offset="0" stop-color="#ffffff"/><stop offset="1" stop-color="#d6d6e4"/></linearGradient><linearGradient id="cg" x1="0" y1="0" x2="0" y2="1"><stop offset="0" stop-color="#9cff9c"/><stop offset="1" stop-color="#18de38"/></linearGradient><pattern id="chk" width="2" height="2" patternUnits="userSpaceOnUse"><rect width="2" height="2" fill="#fbfbfb"/><rect width="1" height="1" fill="#f0f0f0"/><rect x="1" y="1" width="1" height="1" fill="#f0f0f0"/></pattern></defs>
<rect x="5" y="0" width="1" height="18" fill="#a0a0a0"/>
<g shape-rendering="geometricPrecision">
<path d="M16.5,0.3 h7 l3.6,3.4 v9 q0,1 -1,1 h-9.6 q-1,0 -1,-1 v-11.4 q0,-1 1,-1 z" fill="#fdfdfd" stroke="#7e7e7e" stroke-width="1"/>
<path d="M23.6,0.4 v3.3 h3.4" fill="#dcdcdc" stroke="#7e7e7e" stroke-width="0.8"/>
<rect x="17.2" y="6.2" width="5" height="0.9" fill="#8c8c8c"/>
<rect x="17.2" y="8.5" width="5" height="0.9" fill="#8c8c8c"/>
<rect x="17.2" y="10.7" width="5" height="0.9" fill="#8c8c8c"/>
<rect x="17.2" y="2.4" width="2.6" height="1.3" fill="#8c8c8c"/>
<path d="M23.65,6.85 h3.1 v3.5 h3.8 v2.9 h-3.8 v4.2 h-3.1 v-4.2 h-4 v-2.9 h4 z" fill="url(#gp)" stroke="#0c8c0c" stroke-width="0.9"/>
</g>
<text x="33.9" y="11" font-size="11.4" letter-spacing="0.6" font-weight="350" fill="#000" shape-rendering="geometricPrecision">新订单</text>
<g shape-rendering="geometricPrecision">
<path d="M87.6,1.2 L97,7.1 L97.8,10.4 L89.8,15.8 L82,10.3 Q85.8,6.4 87.6,1.2 Z" fill="url(#gold)" stroke="#b06f10" stroke-width="1"/>
<path d="M83.2,10.4 L89.8,14.6 L97.2,9.6" fill="none" stroke="#fff3b0" stroke-width="0.9"/>
<path d="M88.2,3 L95.6,7.6" fill="none" stroke="#fbe88a" stroke-width="1.2" opacity="0.8"/>
<path d="M112.2,-1 h10.8 v10.5 h-10.8 z" fill="url(#blu)"/>
<path d="M112.2,-1 l3,2.5 v8 l-3,0 z" fill="#8fd0ff" opacity="0.8"/>
<rect x="116.5" y="4" width="5" height="1.2" fill="#d8efff"/>
<path d="M112.5,15.6 q-2.8,0 -2.6,-2.5 q0.2,-2 2.4,-2 q0.4,-2.6 3.2,-2.6 q2.2,0 3,1.8 q1,-0.9 2.4,-0.5 q1.9,0.5 1.8,2.3 q2.8,0.2 2.7,2 q-0.1,1.5 -2.2,1.5 z" fill="url(#cloud)" stroke="#5a78b4" stroke-width="0.9"/>
<path d="M146.3,7.6 L146.3,0.4 A7.3,7.3 0 0 1 146.3,15.2 Z" fill="#4aa24a" opacity="0.33"/>
<path d="M146.3,0.7000000000000002 A7.0,7.0 0 0 0 146.3,14.7" fill="none" stroke="#3660d6" stroke-width="1.3" opacity="0.55"/>
<path d="M146.3,0.7000000000000002 A7.0,7.0 0 0 1 146.3,14.7" fill="none" stroke="#3f9a3f" stroke-width="1.5" opacity="0.41250000000000003"/>
<path d="M146.3,3.4000000000000004 A4.3,4.3 0 0 0 146.3,12.0" fill="none" stroke="#3660d6" stroke-width="1.3" opacity="0.85"/>
<path d="M146.3,3.4000000000000004 A4.3,4.3 0 0 1 146.3,12.0" fill="none" stroke="#3f9a3f" stroke-width="1.5" opacity="0.6375"/>
<circle cx="146.2" cy="7.5" r="2" fill="#2850cc"/>
<rect x="146" y="8.2" width="1.2" height="7.5" fill="#1fa01f"/>
<path d="M165.6,6.8 L180.8,6.8 L174.5,15.8 L171,15 Z" fill="url(#face)" stroke="#d9a400" stroke-width="0.6"/>
<ellipse cx="173" cy="4.6" rx="8.1" ry="2.9" fill="url(#hat)" stroke="#2b82b8" stroke-width="0.6"/>
<ellipse cx="173" cy="1.4" rx="2.8" ry="3" fill="url(#hat)"/>
<circle cx="177.6" cy="11.5" r="4.1" fill="#e02410"/>
<rect x="176.2" y="10.1" width="2.8" height="2.8" fill="#fff"/>
</g>
<text x="186.7" y="11" font-size="11.4" letter-spacing="0.6" font-weight="350" fill="#000" shape-rendering="geometricPrecision">自动交易</text>
<rect x="241" y="0" width="1" height="20" fill="#a0a0a0"/><rect x="242" y="0" width="1" height="20" fill="#fff"/>
<rect x="245" y="0" width="3" height="1" fill="#a0a0a0"/>
<rect x="245" y="2" width="3" height="1" fill="#a0a0a0"/>
<rect x="245" y="4" width="3" height="1" fill="#a0a0a0"/>
<rect x="245" y="6" width="3" height="1" fill="#a0a0a0"/>
<rect x="245" y="8" width="3" height="1" fill="#a0a0a0"/>
<rect x="245" y="10" width="3" height="1" fill="#a0a0a0"/>
<rect x="245" y="12" width="3" height="1" fill="#a0a0a0"/>
<rect x="245" y="14" width="3" height="1" fill="#a0a0a0"/>
<rect x="245" y="16" width="3" height="1" fill="#a0a0a0"/>
<rect x="259" y="2" width="1" height="14" fill="#4d4d4d"/>
<rect x="257" y="13" width="14" height="1" fill="#4d4d4d"/>
<rect x="258" y="3" width="3" height="1" fill="#5e5e5e"/>
<rect x="269" y="12" width="1" height="3" fill="#5e5e5e"/>
<rect x="265" y="4" width="1" height="8" fill="#008000"/><rect x="266" y="4" width="2" height="1" fill="#008000"/><rect x="263" y="10" width="2" height="1" fill="#008000"/>
<rect x="279" y="0" width="25" height="18" fill="url(#chk)"/>
<rect x="279" y="0" width="1" height="18" fill="#a0a0a0"/>
<rect x="279" y="18" width="26" height="1" fill="#fff"/>
<rect x="304" y="0" width="1" height="19" fill="#fff"/>
<rect x="287" y="2" width="1" height="14" fill="#4d4d4d"/>
<rect x="285" y="13" width="14" height="1" fill="#4d4d4d"/>
<rect x="286" y="3" width="3" height="1" fill="#5e5e5e"/>
<rect x="297" y="12" width="1" height="3" fill="#5e5e5e"/>
<rect x="293" y="0" width="1" height="12" fill="#008000"/>
<rect x="291" y="2" width="5" height="8" fill="#008000"/><rect x="292" y="3" width="3" height="6" fill="url(#cg)"/>
<rect x="315" y="2" width="1" height="14" fill="#4d4d4d"/>
<rect x="313" y="13" width="14" height="1" fill="#4d4d4d"/>
<rect x="314" y="3" width="3" height="1" fill="#5e5e5e"/>
<rect x="325" y="12" width="1" height="3" fill="#5e5e5e"/>
<path d="M314.4,10.6 C317,9 318.5,5 320.5,5.3 C322.5,5.6 323.5,8.6 325.8,9.3" fill="none" stroke="#2a9a2a" stroke-width="1.1" shape-rendering="geometricPrecision"/>
<rect x="336" y="0" width="1" height="18" fill="#a0a0a0"/>
<g shape-rendering="geometricPrecision">
<line x1="354.7" y1="9.8" x2="359.7" y2="14.6" stroke="#a87800" stroke-width="3.2"/>
<line x1="355.09999999999997" y1="10.2" x2="359.29999999999995" y2="14.2" stroke="#f2d23c" stroke-width="1.8"/>
<circle cx="350.9" cy="5.9" r="5.3" fill="#dcf2ff" stroke="#2f7fca" stroke-width="1.3"/>
<rect x="347.9" y="5.2" width="6" height="1.5" fill="#3f8fbf"/>
<rect x="350.15" y="2.9" width="1.5" height="6" fill="#3f8fbf"/>
<line x1="382.8" y1="9.8" x2="387.8" y2="14.6" stroke="#a87800" stroke-width="3.2"/>
<line x1="383.2" y1="10.2" x2="387.4" y2="14.2" stroke="#f2d23c" stroke-width="1.8"/>
<circle cx="379" cy="5.9" r="5.3" fill="#dcf2ff" stroke="#2f7fca" stroke-width="1.3"/>
<rect x="376" y="5.2" width="6" height="1.5" fill="#3f8fbf"/>
</g>
<rect x="401" y="0" width="8" height="8" fill="#3fa012"/>
<rect x="402.5" y="3" width="5" height="3.5" fill="#fff"/>
<rect x="403.5" y="4" width="3" height="1" fill="#3fa012" opacity="0.55"/>
<rect x="409" y="0" width="8" height="8" fill="#1440d2"/>
<rect x="410.5" y="3" width="5" height="3.5" fill="#fff"/>
<rect x="411.5" y="4" width="3" height="1" fill="#1440d2" opacity="0.55"/>
<rect x="401" y="8" width="8" height="8" fill="#1440d2"/>
<rect x="402.5" y="11" width="5" height="3.5" fill="#fff"/>
<rect x="403.5" y="12" width="3" height="1" fill="#1440d2" opacity="0.55"/>
<rect x="409" y="8" width="8" height="8" fill="#3fa012"/>
<rect x="410.5" y="11" width="5" height="3.5" fill="#fff"/>
<rect x="411.5" y="12" width="3" height="1" fill="#3fa012" opacity="0.55"/>
<rect x="426" y="0" width="1" height="18" fill="#a0a0a0"/>
<rect x="431" y="0" width="25" height="18" fill="url(#chk)"/>
<rect x="431" y="0" width="1" height="18" fill="#a0a0a0"/>
<rect x="431" y="18" width="26" height="1" fill="#fff"/>
<rect x="456" y="0" width="1" height="19" fill="#fff"/>
<rect x="439" y="2" width="1" height="14" fill="#4d4d4d"/>
<rect x="437" y="13" width="14" height="1" fill="#4d4d4d"/>
<rect x="438" y="3" width="3" height="1" fill="#5e5e5e"/>
<rect x="449" y="12" width="1" height="3" fill="#5e5e5e"/>
<polygon points="444.3,4.2 447.8,7.4 444.3,10.6" fill="#8df08d" stroke="#0a9a0a" stroke-width="0.9" shape-rendering="geometricPrecision"/>
<rect x="459" y="0" width="25" height="18" fill="url(#chk)"/>
<rect x="459" y="0" width="1" height="18" fill="#a0a0a0"/>
<rect x="459" y="18" width="26" height="1" fill="#fff"/>
<rect x="484" y="0" width="1" height="19" fill="#fff"/>
<rect x="467" y="2" width="1" height="14" fill="#4d4d4d"/>
<rect x="465" y="13" width="14" height="1" fill="#4d4d4d"/>
<rect x="466" y="3" width="3" height="1" fill="#5e5e5e"/>
<rect x="477" y="12" width="1" height="3" fill="#5e5e5e"/>
<rect x="473" y="2" width="1" height="10" fill="#0a6ea0"/>
<path d="M474.3,7.4 L476.8,5.2 L476.6,6.9 L478.8,6.9 L478.8,7.9 L476.6,7.9 L476.8,9.6 Z" fill="#e04800" shape-rendering="geometricPrecision"/>
<rect x="488" y="0" width="1" height="18" fill="#a0a0a0"/>
<g shape-rendering="geometricPrecision">
<path d="M499.5,0.3 h7 l3.6,3.4 v9 q0,1 -1,1 h-9.6 q-1,0 -1,-1 v-11.4 q0,-1 1,-1 z" fill="#fdfdfd" stroke="#7e7e7e" stroke-width="1"/>
<path d="M506.6,0.4 v3.3 h3.4" fill="#dcdcdc" stroke="#7e7e7e" stroke-width="0.8"/>
<text x="500.4" y="10.6" font-size="10.5" font-style="italic" font-family="'Liberation Serif',serif" fill="#45452a">f</text>
<path d="M506.65000000000003,6.85 h3.1 v3.5 h3.8 v2.9 h-3.8 v4.2 h-3.1 v-4.2 h-4 v-2.9 h4 z" fill="url(#gp)" stroke="#0c8c0c" stroke-width="0.9"/>
</g>
<polygon points="519.5,7 525.5,7 522.5,10" fill="#000" shape-rendering="crispEdges"/>
<rect x="519.5" y="7" width="6" height="1" fill="#000"/>
<g shape-rendering="geometricPrecision">
<circle cx="544" cy="8" r="6.7" fill="#fff" stroke="url(#blu)" stroke-width="2.6"/>
<circle cx="544" cy="8" r="7.9" fill="none" stroke="#0a50b0" stroke-width="0.5"/>
<path d="M543.6,4 V8.4 L546.6,8.6" fill="none" stroke="#111" stroke-width="1.1"/>
<circle cx="548.90" cy="8.00" r="0.35" fill="#888"/>
<circle cx="548.24" cy="10.45" r="0.35" fill="#888"/>
<circle cx="546.45" cy="12.24" r="0.35" fill="#888"/>
<circle cx="544.00" cy="12.90" r="0.35" fill="#888"/>
<circle cx="541.55" cy="12.24" r="0.35" fill="#888"/>
<circle cx="539.76" cy="10.45" r="0.35" fill="#888"/>
<circle cx="539.10" cy="8.00" r="0.35" fill="#888"/>
<circle cx="539.76" cy="5.55" r="0.35" fill="#888"/>
<circle cx="541.55" cy="3.76" r="0.35" fill="#888"/>
<circle cx="544.00" cy="3.10" r="0.35" fill="#888"/>
<circle cx="546.45" cy="3.76" r="0.35" fill="#888"/>
<circle cx="548.24" cy="5.55" r="0.35" fill="#888"/>
</g>
<polygon points="558.5,7 564.5,7 561.5,10" fill="#000" shape-rendering="crispEdges"/>
<rect x="558.5" y="7" width="6" height="1" fill="#000"/>
<rect x="575" y="1" width="16" height="14" fill="#3a78c8"/>
<rect x="576" y="1" width="14" height="2" fill="#7fb4ee"/>
<rect x="576" y="4" width="14" height="5" fill="#fff"/><rect x="576" y="10" width="14" height="4" fill="#fff"/>
<polyline points="577.5,7.5 579.5,7.5 581,5.6 583,5.6 584.5,6.6 586.5,6.6 588,5.4 589.5,5.4" fill="none" stroke="#a02810" stroke-width="1" shape-rendering="geometricPrecision"/>
<polyline points="578,12.6 580,12.6 581.5,11.4 583,12.6 585,10.6 586.5,10.6 588.5,12.8" fill="none" stroke="#0a8a2a" stroke-width="1" shape-rendering="geometricPrecision"/>
<polygon points="597.5,7 603.5,7 600.5,10" fill="#000" shape-rendering="crispEdges"/>
<rect x="597.5" y="7" width="6" height="1" fill="#000"/>
<rect x="609" y="0" width="1" height="20" fill="#a0a0a0"/><rect x="610" y="0" width="1" height="20" fill="#fff"/>
<rect x="613" y="0" width="3" height="1" fill="#a0a0a0"/>
<rect x="613" y="2" width="3" height="1" fill="#a0a0a0"/>
<rect x="613" y="4" width="3" height="1" fill="#a0a0a0"/>
<rect x="613" y="6" width="3" height="1" fill="#a0a0a0"/>
<rect x="613" y="8" width="3" height="1" fill="#a0a0a0"/>
<rect x="613" y="10" width="3" height="1" fill="#a0a0a0"/>
<rect x="613" y="12" width="3" height="1" fill="#a0a0a0"/>
<rect x="613" y="14" width="3" height="1" fill="#a0a0a0"/>
<rect x="613" y="16" width="3" height="1" fill="#a0a0a0"/>
<rect x="619" y="0" width="25" height="18" fill="url(#chk)"/>
<rect x="619" y="0" width="1" height="18" fill="#a0a0a0"/>
<rect x="619" y="18" width="26" height="1" fill="#fff"/>
<rect x="644" y="0" width="1" height="19" fill="#fff"/>
<path d="M627.2,0.9 L627.2,11.9 L629.8,9.8 L632.2,14.9 L634.2,14 L631.8,9 L635.2,8.7 Z" fill="#4d4d4d" shape-rendering="geometricPrecision"/>
<rect x="659" y="1" width="1" height="6" fill="#4d4d4d"/><rect x="659" y="10" width="1" height="6" fill="#4d4d4d"/>
<rect x="652" y="8" width="6" height="1" fill="#4d4d4d"/><rect x="661" y="8" width="6" height="1" fill="#4d4d4d"/><rect x="659" y="8" width="1" height="1" fill="#8a7a50"/>
<rect x="676" y="0" width="1" height="18" fill="#a0a0a0"/>
<rect x="693" y="2" width="1" height="13" fill="#4d4d4d"/>
<rect x="716" y="8" width="12" height="1" fill="#4d4d4d"/>
<line x1="743.7" y1="14.8" x2="755.9" y2="2.7" stroke="#4d4d4d" stroke-width="1.1" shape-rendering="geometricPrecision"/>
<g shape-rendering="geometricPrecision">
<line x1="770" y1="9.8" x2="778.4" y2="2.2" stroke="#4d4d4d" stroke-width="0.9"/>
<line x1="774.6" y1="14.6" x2="784" y2="6.4" stroke="#4d4d4d" stroke-width="0.9"/>
<line x1="772.6" y1="8" x2="772.6" y2="13.6" stroke="#4d4d4d" stroke-width="1"/>
<line x1="771.4" y1="12.2" x2="772.6" y2="12.2" stroke="#4d4d4d" stroke-width="0.9"/>
<line x1="772.6" y1="9.6" x2="773.8000000000001" y2="9.6" stroke="#4d4d4d" stroke-width="0.9"/>
<line x1="775.2" y1="6" x2="775.2" y2="11.8" stroke="#4d4d4d" stroke-width="1"/>
<line x1="774.0" y1="10.4" x2="775.2" y2="10.4" stroke="#4d4d4d" stroke-width="0.9"/>
<line x1="775.2" y1="7.6" x2="776.4000000000001" y2="7.6" stroke="#4d4d4d" stroke-width="0.9"/>
<line x1="777.8" y1="4" x2="777.8" y2="9.6" stroke="#4d4d4d" stroke-width="1"/>
<line x1="776.5999999999999" y1="8.2" x2="777.8" y2="8.2" stroke="#4d4d4d" stroke-width="0.9"/>
<line x1="777.8" y1="5.6" x2="779.0" y2="5.6" stroke="#4d4d4d" stroke-width="0.9"/>
<line x1="780.3" y1="2.2" x2="780.3" y2="7.6" stroke="#4d4d4d" stroke-width="1"/>
<line x1="779.0999999999999" y1="6.199999999999999" x2="780.3" y2="6.199999999999999" stroke="#4d4d4d" stroke-width="0.9"/>
<line x1="780.3" y1="3.8000000000000003" x2="781.5" y2="3.8000000000000003" stroke="#4d4d4d" stroke-width="0.9"/>
<line x1="782.4" y1="-0.5" x2="782.4" y2="5.4" stroke="#4d4d4d" stroke-width="1"/>
<line x1="781.1999999999999" y1="4.0" x2="782.4" y2="4.0" stroke="#4d4d4d" stroke-width="0.9"/>
<line x1="782.4" y1="1.1" x2="783.6" y2="1.1" stroke="#4d4d4d" stroke-width="0.9"/>
<text x="780.8" y="17" font-size="7" font-weight="bold" fill="#4d4d4d">E</text>
</g>
<line x1="799" y1="1.5" x2="812" y2="1.5" stroke="#4d4d4d" stroke-width="1" stroke-dasharray="1,1"/>
<line x1="799" y1="4.5" x2="812" y2="4.5" stroke="#4d4d4d" stroke-width="1" stroke-dasharray="1,1"/>
<line x1="799" y1="8.5" x2="812" y2="8.5" stroke="#4d4d4d" stroke-width="1" stroke-dasharray="1,1"/>
<line x1="799" y1="12.5" x2="808" y2="12.5" stroke="#4d4d4d" stroke-width="1" stroke-dasharray="1,1"/>
<text x="808.6" y="17" font-size="7" font-weight="bold" fill="#4d4d4d" shape-rendering="geometricPrecision">F</text>
<text transform="translate(829.9,13) scale(0.86,1)" font-size="12.8" fill="#4d4d4d" stroke="#4d4d4d" stroke-width="0.4" shape-rendering="geometricPrecision">A</text>
<rect x="856.5" y="2.5" width="11" height="12" fill="none" stroke="#4d4d4d" stroke-width="1" stroke-dasharray="1,1"/>
<rect x="855" y="1" width="2" height="1" fill="#4d4d4d"/>
<text transform="translate(857.4,12.7) scale(1.15,1)" font-size="10.8" fill="#4d4d4d" stroke="#4d4d4d" stroke-width="0.4" shape-rendering="geometricPrecision">T</text>
<g shape-rendering="geometricPrecision">
<polygon points="882.9,5.3 886.4,1.7 890,5.3 886.4,6.7" fill="#4d4d4d"/>
<polygon points="889.9,11.2 893.5,9.9 897.2,11.2 893.5,15.1" fill="#4d4d4d"/>
<path d="M884.9,9.5 L887.2,11.6 L891.8,6.1" fill="none" stroke="#4d4d4d" stroke-width="1.5"/>
</g>
<polygon points="903.5,7 909.5,7 906.5,10" fill="#000" shape-rendering="crispEdges"/>
<rect x="903.5" y="7" width="6" height="1" fill="#000"/>
<rect x="915" y="0" width="1" height="20" fill="#a0a0a0"/><rect x="916" y="0" width="1" height="20" fill="#fff"/>
<rect x="919" y="0" width="3" height="1" fill="#a0a0a0"/>
<rect x="919" y="2" width="3" height="1" fill="#a0a0a0"/>
<rect x="919" y="4" width="3" height="1" fill="#a0a0a0"/>
<rect x="919" y="6" width="3" height="1" fill="#a0a0a0"/>
<rect x="919" y="8" width="3" height="1" fill="#a0a0a0"/>
<rect x="919" y="10" width="3" height="1" fill="#a0a0a0"/>
<rect x="919" y="12" width="3" height="1" fill="#a0a0a0"/>
<rect x="919" y="14" width="3" height="1" fill="#a0a0a0"/>
<rect x="919" y="16" width="3" height="1" fill="#a0a0a0"/>
<rect x="1065" y="0" width="25" height="18" fill="url(#chk)"/>
<rect x="1065" y="0" width="1" height="18" fill="#a0a0a0"/>
<rect x="1065" y="18" width="26" height="1" fill="#fff"/>
<rect x="1090" y="0" width="1" height="19" fill="#fff"/>
<text transform="translate(930.4,11.8) scale(0.97,1)" font-size="9.6" fill="#3c3c3c" shape-rendering="geometricPrecision">M1</text>
<text transform="translate(958.3,11.8) scale(0.97,1)" font-size="9.6" fill="#3c3c3c" shape-rendering="geometricPrecision">M5</text>
<text transform="translate(984.4,11.8) scale(0.97,1)" font-size="9.6" fill="#3c3c3c" shape-rendering="geometricPrecision">M15</text>
<text transform="translate(1012.3,11.8) scale(0.97,1)" font-size="9.6" fill="#3c3c3c" shape-rendering="geometricPrecision">M30</text>
<text transform="translate(1043.2,11.8) scale(0.97,1)" font-size="9.6" fill="#3c3c3c" shape-rendering="geometricPrecision">H1</text>
<text transform="translate(1070.1,11.8) scale(0.97,1)" font-size="9.6" fill="#3c3c3c" shape-rendering="geometricPrecision">H4</text>
<text transform="translate(1099.2,11.8) scale(0.97,1)" font-size="9.6" fill="#3c3c3c" shape-rendering="geometricPrecision">D1</text>
<text transform="translate(1126.8,11.8) scale(0.97,1)" font-size="9.6" fill="#3c3c3c" shape-rendering="geometricPrecision">W1</text>
<text transform="translate(1153.4,11.8) scale(0.97,1)" font-size="9.6" fill="#3c3c3c" shape-rendering="geometricPrecision">MN</text>
<rect x="1176" y="0" width="1" height="20" fill="#a0a0a0"/><rect x="1177" y="0" width="1" height="20" fill="#fff"/>
<g shape-rendering="geometricPrecision">
<line x1="1643.3" y1="8.7" x2="1638.8" y2="13" stroke="#2456d6" stroke-width="2.1"/>
<circle cx="1646.6" cy="5.4" r="4" fill="#f3f3fb" stroke="#2456d6" stroke-width="1.1"/>
<path d="M1665.6,13.6 L1666.4,16.8 L1669.6,14.2 Z" fill="#dcdce8" stroke="#a0a0a0" stroke-width="0.8"/>
<ellipse cx="1668.8" cy="10.4" rx="5.5" ry="4" fill="url(#bub)" stroke="#a8a8a8" stroke-width="1"/>
<circle cx="1677.4" cy="5.2" r="8.3" fill="url(#redb)"/>
<text x="1673.2" y="9.9" font-size="11.8" fill="#fff" stroke="#fff" stroke-width="0.3">1</text>
<rect x="1674.1" y="8.9" width="5.2" height="1.1" fill="#fff"/>
</g>
</svg>
</body></html>
